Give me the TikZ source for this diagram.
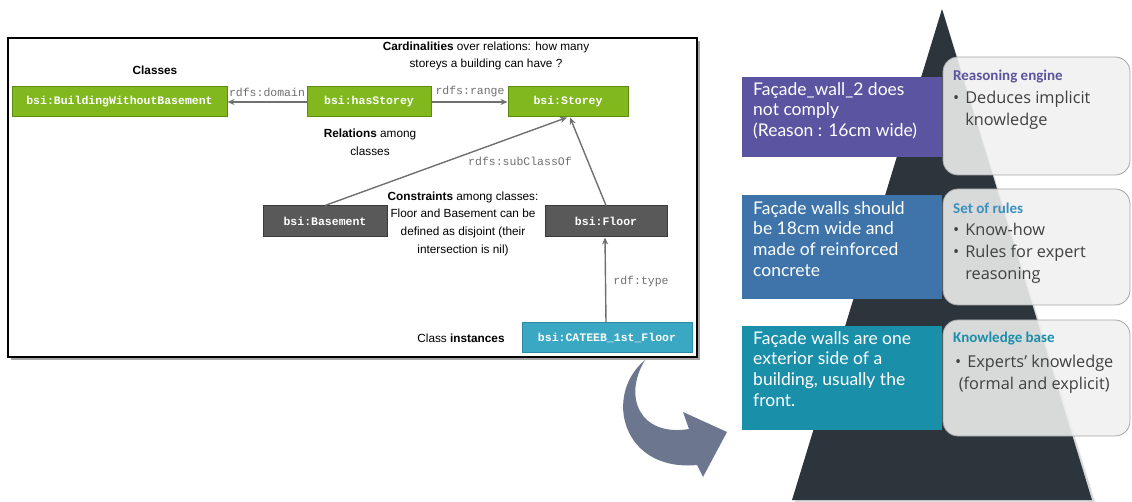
\documentclass[tikz,border=0pt]{standalone}
\usepackage{fontspec}
\setmainfont{Liberation Sans}
\setmonofont{Liberation Mono}
\newfontfamily\bodyfont{Open Sans}
\newfontfamily\headfont{Carlito}
\newfontfamily\handfont{Lato}
\usetikzlibrary{arrows.meta}
\definecolor{greenf}{HTML}{80B81E}
\definecolor{greenb}{HTML}{5E8C10}
\definecolor{grayf}{HTML}{595959}
\definecolor{grayb}{HTML}{3A3A3A}
\definecolor{tealf}{HTML}{3AA7C3}
\definecolor{tealb}{HTML}{2A8AA3}
\definecolor{linec}{HTML}{707070}
\definecolor{arrowc}{HTML}{6C778F}
\definecolor{pyr}{HTML}{2B353B}
\definecolor{purp}{HTML}{5B54A0}
\definecolor{blu}{HTML}{3E74AA}
\definecolor{tealp}{HTML}{1A8FAA}
\definecolor{setc}{HTML}{3A8FBF}
\definecolor{bodyc}{HTML}{404040}
\tikzset{
  clsbox/.style={draw=#1b, fill=#1f, line width=1pt, text=white, inner sep=0pt,
    minimum height=30pt, font=\ttfamily\bfseries\fontsize{11.5}{13}\selectfont},
  rellab/.style={text=linec, inner sep=0pt, font=\ttfamily\fontsize{11.5}{13}\selectfont},
  relarrow/.style={draw=linec, line width=1.4pt, -{Stealth[length=7pt,width=6pt]}},
  annot/.style={align=center, inner sep=0pt, font=\fontsize{11.8}{17.7}\selectfont},
  pbox/.style={fill=#1, inner sep=0pt, minimum width=200pt},
  ptext/.style={text=white, align=left, anchor=north west, inner sep=0pt,
    font=\handfont\fontsize{17.5}{20.8}\selectfont},
  gbox/.style={draw=gray!70, line width=0.8pt, fill=black!6, fill opacity=0.88, rounded corners=15pt},
  ghead/.style={anchor=west, inner sep=0pt, font=\headfont\bfseries\fontsize{15}{17}\selectfont},
  gbody/.style={anchor=north west, inner sep=0pt, align=left, text=bodyc,
    font=\bodyfont\fontsize{16.3}{22}\selectfont}
}
\newcommand{\bul}{\textbullet\hspace{6pt}}
\newcommand{\bulsp}{\hphantom{\textbullet\hspace{6pt}}}
\begin{document}
\begin{tikzpicture}[x=1pt,y=-1pt]
\useasboundingbox (0,0) rectangle (1132,502);
% left panel frame
\fill[black!35] (11,41) rectangle (700,360);
\fill[white] (8,38) rectangle (697,357);
\draw[black, line width=1.2pt] (8,38) rectangle (697,357);

% class nodes
\node[clsbox=green, minimum width=215pt] (bwb) at (119.5,102) {bsi:BuildingWithoutBasement};
\node[clsbox=green, minimum width=124pt] (has) at (369,102) {bsi:hasStorey};
\node[clsbox=green, minimum width=120pt] (sto) at (568,102) {bsi:Storey};
\node[clsbox=gray, minimum width=124pt, minimum height=31pt] (bas) at (325,221.5) {bsi:Basement};
\node[clsbox=gray, minimum width=122pt, minimum height=31pt] (flo) at (606,221.5) {bsi:Floor};
\node[clsbox=teal, minimum width=170pt] (cat) at (607,338) {bsi:CATEEB\_1st\_Floor};

% relations
\draw[relarrow] (has.west) -- (bwb.east);
\draw[relarrow] (has.east) -- (sto.west);
\draw[relarrow] (bas.north) -- ([xshift=-1pt]sto.south);
\draw[relarrow] (flo.north) -- ([xshift=2pt]sto.south);
\draw[relarrow] ([xshift=-1pt]cat.north) -- ([xshift=-1pt]flo.south);
\node[rellab] (ldom) at (267,92) {rdfs:domain};
\node[rellab] (lran) at (470,92) {rdfs:range};
\node[rellab] (lsub) at (520,161) {rdfs:subClassOf};
\node[rellab] (ltyp) at (641,282) {rdf:type};

% annotations
\node[annot] (aclass) at (155,70) {\textbf{Classes}};
\node[annot] (acard) at (486,56) {\textbf{Cardinalities} over relations: how many\\storeys a building can have ?};
\node[annot] (arel) at (370,142) {\textbf{Relations} among\\classes};
\node[annot] (acons) at (463,223.5) {\textbf{Constraints} among classes:\\Floor and Basement can be\\defined as disjoint (their\\intersection is nil)};
\node[annot] (ainst) at (461,338) {Class \textbf{instances}};

% curved arrow
\fill[arrowc] (645,360) .. controls (603,395) and (622,472) .. (697,465)
  -- (703,477) -- (727,432) -- (683,412) -- (689,429)
  .. controls (641,437) and (622,398) .. (645,360) -- cycle;

% pyramid
\fill[black!15] (943,11) -- (795,502) -- (1095,502) -- cycle;
\fill[pyr] (942,9) -- (792,500) -- (1092,500) -- cycle;

% gray boxes
\draw[gbox] (943,57) rectangle (1130,175);
\draw[gbox] (943,189) rectangle (1130,305);
\draw[gbox] (943,320) rectangle (1130,436);

% coloured boxes
\node[pbox=purp, minimum height=80pt] (p1) at (842,117) {};
\node[pbox=blu, minimum height=104pt] (p2) at (842,247) {};
\node[pbox=tealp, minimum height=104pt] (p3) at (842,378) {};
\node[ptext] (t1) at (753,82) {Façade\_wall\_2 does\\not comply\\(Reason : 16cm wide)};
\node[ptext] (t2) at (753,201) {Façade walls should\\be 18cm wide and\\made of reinforced\\concrete};
\node[ptext] (t3) at (753,331) {Façade walls are one\\exterior side of a\\building, usually the\\front.};

% gray box texts
\node[ghead, text=purp] (h1) at (953,77) {Reasoning engine};
\node[gbody] (b1) at (953,91) {\bul Deduces implicit\\\bulsp knowledge};
\node[ghead, text=setc] (h2) at (953,208) {Set of rules};
\node[gbody] (b2) at (953,223) {\bul Know-how\\\bul Rules for expert\\\bulsp reasoning};
\node[ghead, text=tealp] (h3) at (953,339) {Knowledge base};
\node[gbody, align=center] (b3) at (955,355) {\bul Experts’ knowledge\\(formal and explicit)};
\end{tikzpicture}
\end{document}
